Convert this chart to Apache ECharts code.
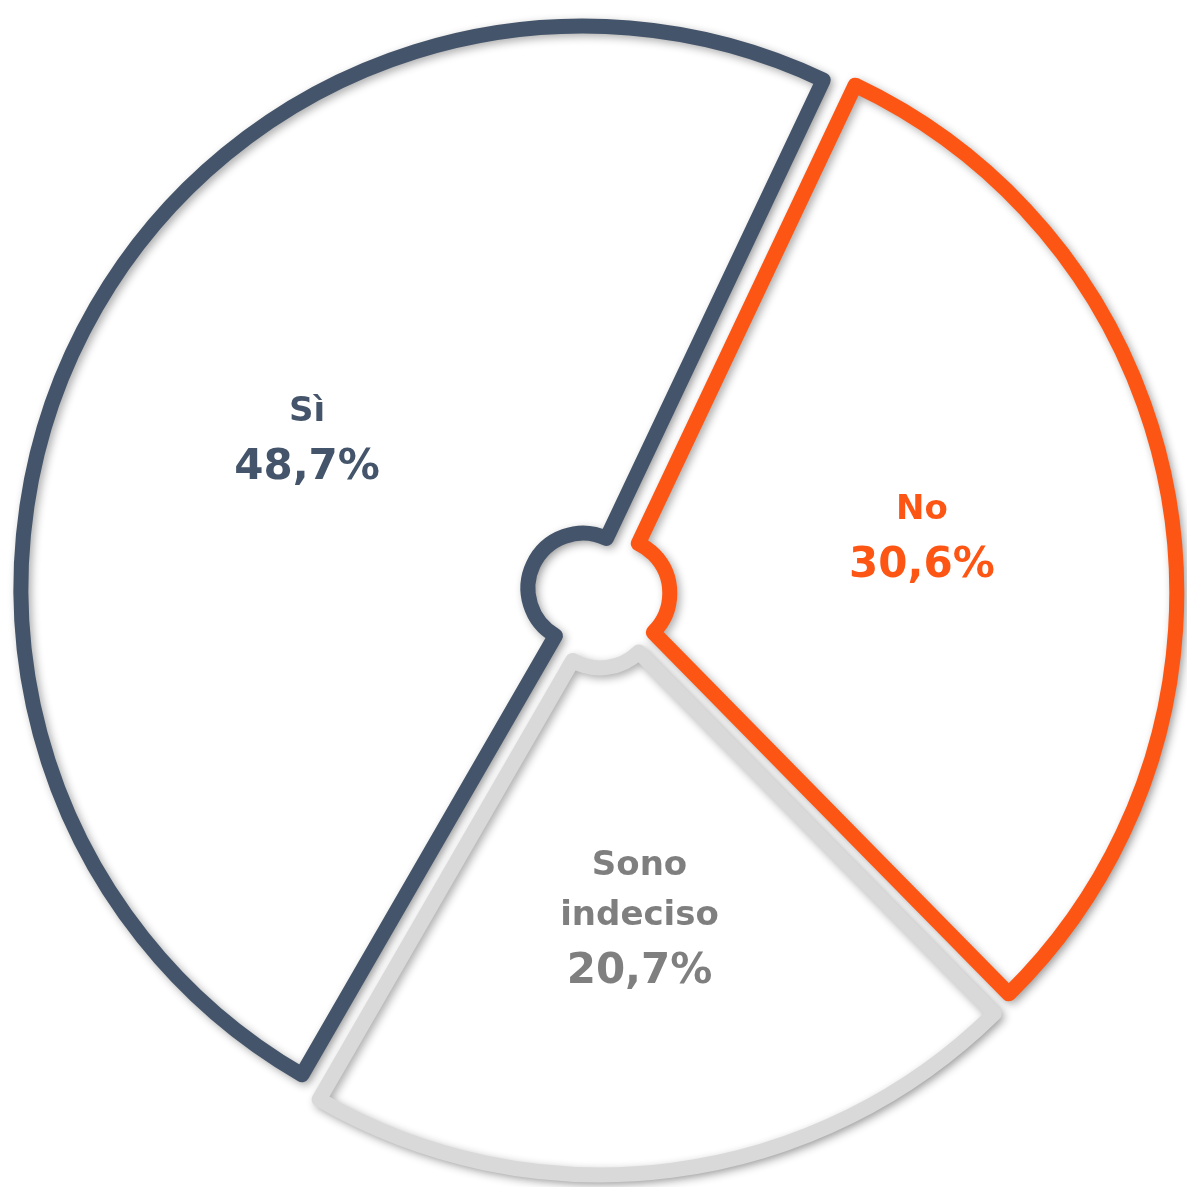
<!DOCTYPE html>
<html>
<head>
<meta charset="utf-8">
<script src="https://cdn.jsdelivr.net/npm/echarts@6/dist/echarts.min.js"></script>
<style>
html,body{margin:0;padding:0;background:#ffffff;}
#chart{width:1187px;height:1187px;}
</style>
</head>
<body>
<div id="chart"></div>
<script>
const categories = ['Sì', 'No', 'Sono indeciso'];
const values = [48.7, 30.6, 20.7];
const borderColors = ['#44546A', '#FD5614', '#D9D9D9'];
const labelColors = ['#44546A', '#FD5614', '#7F7F7F'];

const chart = echarts.init(document.getElementById('chart'), null, {renderer: 'canvas'});

const data = categories.map(function (name, i) {
  const style = {
    color: '#ffffff',
    borderColor: borderColors[i],
    borderWidth: 15,
    borderJoin: 'round',
    shadowBlur: 8,
    shadowColor: 'rgba(0,0,0,0.32)',
    shadowOffsetX: 3,
    shadowOffsetY: 3
  };
  const lbl = {
    rich: {
      n: {fontSize: 34, lineHeight: 50, fontWeight: 'bold', color: labelColors[i], fontFamily: 'DejaVu Sans'},
      v: {fontSize: 42, lineHeight: 62, fontWeight: 'bold', color: labelColors[i], fontFamily: 'DejaVu Sans'}
    }
  };
  return {
    name: name,
    value: values[i],
    selected: true,
    itemStyle: style,
    label: lbl,
    select: {itemStyle: style, label: lbl},
    emphasis: {disabled: true}
  };
});

chart.setOption({
  backgroundColor: '#ffffff',
  animation: false,
  series: [{
    type: 'pie',
    center: [598, 596],
    radius: [55, 562],
    startAngle: 240,
    clockwise: true,
    selectedMode: 'multiple',
    selectedOffset: 17,
    avoidLabelOverlap: false,
    label: {
      show: true,
      position: 'inside',
      align: 'center',
      formatter: function (p) {
        return '{n|' + p.name.split(' ').join('}\n{n|') + '}\n{v|' + p.value.toFixed(1).replace('.', ',') + '%}';
      }
    },
    labelLine: {show: false},
    data: data
  }]
});
</script>
</body>
</html>
